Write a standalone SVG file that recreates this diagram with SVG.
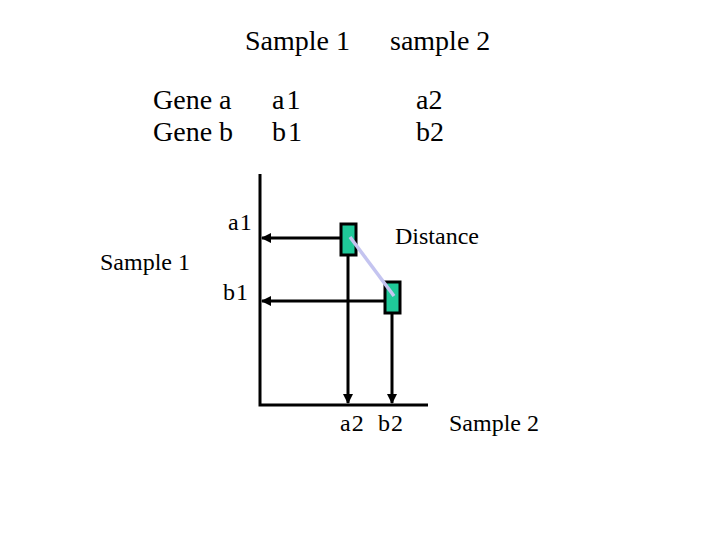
<svg xmlns="http://www.w3.org/2000/svg" width="720" height="540" viewBox="0 0 720 540">
<style>
text{font-family:"Liberation Serif","Times New Roman",serif;fill:#000}
.h{font-size:28px}
.l{font-size:24px}
.ln{stroke:#000;stroke-width:3;fill:none}
.box{fill:#1fc999;stroke:#000;stroke-width:3}
</style>
<defs>
<marker id="ah" viewBox="0 0 10 10" refX="9" refY="5" markerWidth="3.4" markerHeight="3.4" orient="auto" markerUnits="strokeWidth">
<path d="M0,0 L10,5 L0,10 z" fill="#000"/>
</marker>
</defs>
<rect width="720" height="540" fill="#fff"/>
<g id="table">
<text class="h" x="245" y="50">Sample 1</text>
<text class="h" x="390" y="50">sample 2</text>
<text class="h" x="153" y="109">Gene a</text>
<text class="h" x="153" y="141">Gene b</text>
<text class="h" x="272" y="109" letter-spacing="2">a1</text>
<text class="h" x="272" y="141" letter-spacing="2">b1</text>
<text class="h" x="416" y="109">a2</text>
<text class="h" x="416" y="141">b2</text>
</g>
<g id="axes">
<path class="ln" d="M260,174 V405 H428"/>
</g>
<g id="connectors">
<line class="ln" x1="340" y1="238" x2="262" y2="238" marker-end="url(#ah)"/>
<line class="ln" x1="384" y1="301" x2="262" y2="301" marker-end="url(#ah)"/>
<line class="ln" x1="348" y1="255" x2="348" y2="403" marker-end="url(#ah)"/>
<line class="ln" x1="392" y1="313" x2="392" y2="403" marker-end="url(#ah)"/>
</g>
<g id="point1"><rect class="box" x="341" y="224" width="15" height="31"/></g>
<g id="point2"><rect class="box" x="385" y="282" width="15" height="31"/></g>
<g id="distance">
<line x1="350" y1="237" x2="394" y2="296" stroke="#c4c4f0" stroke-width="3.5"/>
<text class="l" x="395" y="244">Distance</text>
</g>
<g id="labels">
<text class="l" x="228" y="230" letter-spacing="1">a1</text>
<text class="l" x="223" y="300" letter-spacing="1">b1</text>
<text class="l" x="100" y="270">Sample 1</text>
<text class="l" x="340" y="431" letter-spacing="1">a2</text>
<text class="l" x="378" y="431" letter-spacing="1">b2</text>
<text class="l" x="449" y="431">Sample 2</text>
</g>
</svg>
